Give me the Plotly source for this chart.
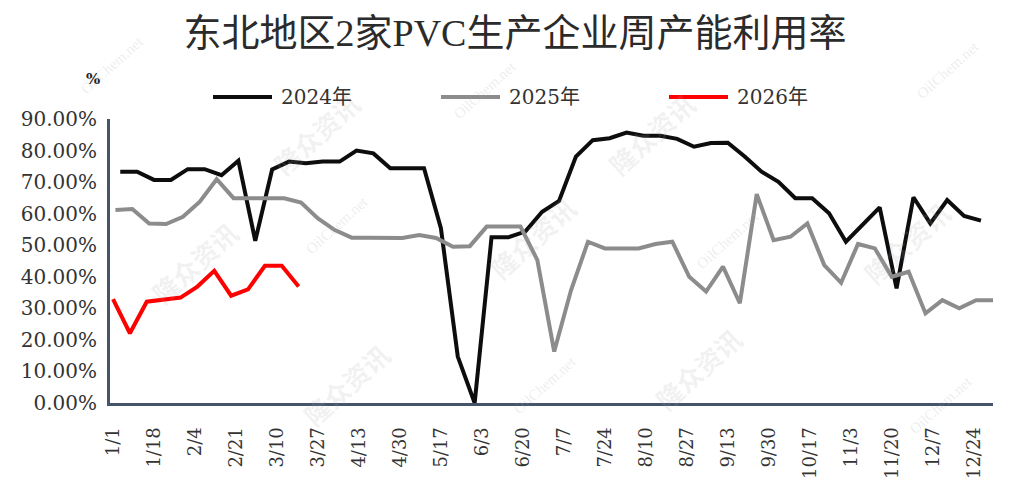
import pandas as pd
import plotly.graph_objects as go

# ---- data (weekly, Thursday readings, plotted on a common Jan–Dec axis) ----
start_2024 = "2025-01-04"
start_2025 = "2025-01-02"
start_2026 = "2025-01-01"

vals_2024 = [73.3, 73.3, 70.7, 70.7, 74.1, 74.1, 72.2, 76.8, 51.4, 74.0,
             76.5, 76.0, 76.5, 76.5, 80.0, 79.1, 74.4, 74.4, 74.4, 55.4,
             14.7, 0.0, 52.5, 52.5, 54.3, 60.6, 64.0, 78.1, 83.3, 83.9,
             85.7, 84.7, 84.7, 83.7, 81.2, 82.4, 82.5, 78.1, 73.3, 70.1,
             64.9, 64.9, 60.1, 51.1, 56.4, 62.0, 36.3, 65.2, 56.9, 64.3,
             59.3, 57.8]
vals_2025 = [61.2, 61.5, 56.9, 56.7, 59.0, 63.8, 70.9, 64.9, 64.9, 64.9,
             64.9, 63.5, 58.5, 54.8, 52.4, 52.4, 52.4, 52.3, 53.2, 52.3,
             49.5, 49.7, 55.9, 55.9, 55.9, 45.3, 16.3, 35.8, 51.1, 49.0,
             49.0, 49.0, 50.4, 51.1, 40.0, 35.3, 43.2, 31.6, 66.2, 51.6,
             52.7, 56.9, 43.7, 38.1, 50.4, 49.0, 40.0, 41.6, 28.4, 32.6,
             30.0, 32.6, 32.6]
vals_2026 = [32.9, 22.1, 32.1, 32.9, 33.4, 36.9, 41.9, 34.0, 36.0, 43.5,
             43.5, 36.9]

series_names = ["2024年", "2025年", "2026年"]
series_colors = ["#0d0d0d", "#8c8c8c", "#ff0000"]

dates_2024 = pd.date_range(start_2024, periods=len(vals_2024), freq="7D")
dates_2025 = pd.date_range(start_2025, periods=len(vals_2025), freq="7D")
dates_2026 = pd.date_range(start_2026, periods=len(vals_2026), freq="7D")

title_text = "东北地区2家PVC生产企业周产能利用率"
unit_text = "%"

SERIF = "DejaVu Serif, Noto Sans CJK SC"

W, H = 1013, 485
ML, MR, MT, MB = 110, 20, 119, 82
PW, PH = W - ML - MR, H - MT - MB


def px_x(px):
    return (px - ML) / PW


def px_y(py):
    return (H - MB - py) / PH


fig = go.Figure()
for name, xs, ys, col in zip(series_names,
                             [dates_2024, dates_2025, dates_2026],
                             [vals_2024, vals_2025, vals_2026],
                             series_colors):
    fig.add_trace(go.Scatter(x=xs, y=ys, mode="lines", name=name,
                             line=dict(color=col, width=4), showlegend=False))

# faint watermarks
wm = [(140, 262), (532, 237), (752, 420), (960, 242), (292, 436), (262, 82), (705, 82)]
for px, py in wm:
    fig.add_annotation(text="隆众资讯", x=px_x(px), y=px_y(py), xref="paper", yref="paper",
                       showarrow=False, textangle=-42,
                       font=dict(family="Noto Sans CJK SC", size=26,
                                 color="rgba(170,170,170,0.16)", weight="bold"))
wm2 = [(75, 30), (300, 225), (545, 420), (765, 240), (985, 35), (978, 440), (485, 55)]
for px, py in wm2:
    fig.add_annotation(text="OilChem.net", x=px_x(px), y=px_y(py), xref="paper", yref="paper",
                       showarrow=False, textangle=-42,
                       font=dict(family="Liberation Serif", size=15, color="rgba(170,170,170,0.22)"))

# unit label
fig.add_annotation(text=unit_text, x=px_x(93), y=px_y(79), xref="paper", yref="paper",
                   xanchor="center", yanchor="middle",
                   showarrow=False, font=dict(family=SERIF, size=15, color="#222222", weight="bold"))

# legend (drawn as line samples + labels)
leg_line_start = [213, 441, 669]
for name, col, x0 in zip(series_names, series_colors, leg_line_start):
    fig.add_shape(type="line", xref="paper", yref="paper",
                  x0=px_x(x0), x1=px_x(x0 + 59), y0=px_y(97), y1=px_y(97),
                  line=dict(color=col, width=4))
    fig.add_annotation(text=name, x=px_x(x0 + 66), y=px_y(97), xref="paper", yref="paper",
                       xanchor="left", yanchor="middle", showarrow=False,
                       font=dict(family=SERIF, size=20, color="#333333"))

fig.update_layout(
    width=W, height=H,
    margin=dict(l=ML, r=MR, t=MT, b=MB, autoexpand=False),
    paper_bgcolor="white", plot_bgcolor="white",
    title=dict(text=title_text, x=515 / W, xanchor="center", y=1 - 33 / H, yanchor="middle",
               xref="container", yref="container",
               font=dict(family="Liberation Serif, Noto Sans CJK SC", size=38, color="#2b2b2b")),
    showlegend=False,
    xaxis=dict(type="date", range=["2024-12-30 18:00", "2026-01-01 00:00"],
               tick0="2025-01-01", dtick=17 * 86400000, tickformat="%-m/%-d",
               tickangle=-90, showgrid=False, zeroline=False, automargin=False,
               showline=True, linecolor="#44546a", linewidth=3, ticks="",
               ticklabelstandoff=14,
               tickfont=dict(family=SERIF, size=18, color="#333333")),
    yaxis=dict(range=[0, 90], dtick=10, tickformat=".2f", ticksuffix="%",
               showgrid=False, zeroline=False, showline=True, linecolor="#44546a",
               linewidth=3, ticks="", ticklabelstandoff=6, automargin=False,
               tickfont=dict(family=SERIF, size=20, color="#333333")),
)

fig.write_html("out.html", config={"displayModeBar": False},
               post_script="document.body.style.margin='0px';")
